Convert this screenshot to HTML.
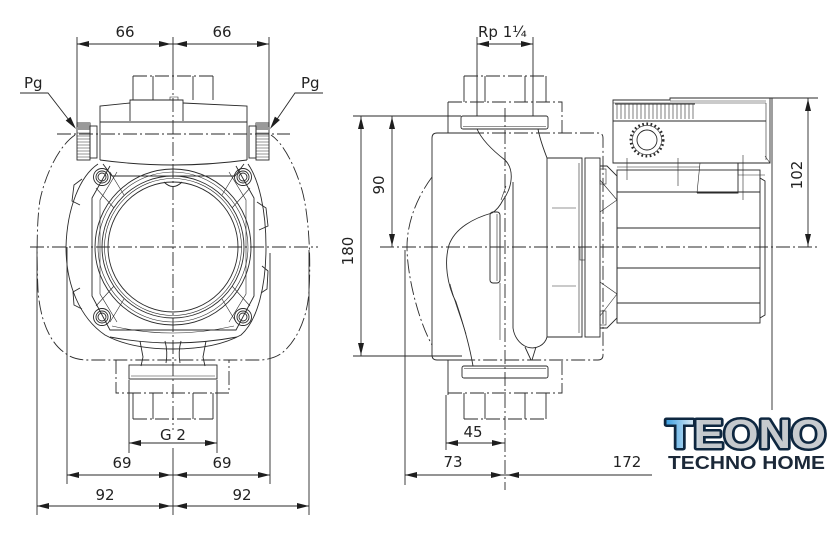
<!DOCTYPE html>
<html><head><meta charset="utf-8"><style>
html,body{margin:0;padding:0;background:#fff;}
svg{display:block}
.l{stroke:#2a2a2a;stroke-width:0.9;fill:none}
.t{stroke:#2a2a2a;stroke-width:0.6;fill:none}
.dd{stroke-dasharray:14 3 2 3}
.a{fill:#1e1e1e;stroke:none}
.tx{font-family:"DejaVu Sans","Liberation Sans",sans-serif;font-size:15px;fill:#222}
</style></head><body>
<svg width="840" height="535" viewBox="0 0 840 535" xmlns="http://www.w3.org/2000/svg">
<defs>
<linearGradient id="lg" x1="0" y1="0" x2="1" y2="0">
<stop offset="0" stop-color="#3b9fe2"/><stop offset="0.16" stop-color="#cfe6f5"/><stop offset="0.22" stop-color="#c4c8cc"/><stop offset="1" stop-color="#c8ccd0"/>
</linearGradient>
</defs>
<rect width="840" height="535" fill="#fff"/>

<!-- ================= LEFT VIEW ================= -->
<!-- center lines -->
<path class="l" d="M173,37 V76"/>
<path class="l dd" d="M173,76 V430"/>
<path class="l" d="M173,448 V515"/>
<path class="l dd" d="M30,247 H318"/>
<path class="l dd" d="M57,134 H290"/>

<!-- outer housing contour -->
<path class="l dd" d="M75,135 C60,145 46,172 40,200 C36,225 37,270 38,290 C40,320 50,343 65,353 Q72,359 85,360 L261,360 Q274,359 282,353 C298,340 308,315 309,290 C311,260 309,215 302,190 C294,163 282,142 271,135"/>

<!-- top nut -->
<path class="l dd" d="M133,76 H213"/>
<path class="l" d="M133,76 V100 M213,76 V100 M153,76 V100 M193,76 V100"/>
<!-- raised -->
<path class="l" d="M130,121 V100 H183 V121"/>
<path class="t" d="M170,100 V97 H178 V100"/>
<!-- block -->
<path class="l" d="M100,160 V106 L130,103 M183,103 L247,106 V160"/>
<path class="l" d="M100,122 H247"/>
<path class="l" d="M100,160 Q173,170 247,160"/>
<path class="l" d="M103,164 L112,176 H235 L244,164"/>

<!-- Pg nuts -->
<rect class="l" x="77" y="123" width="13" height="37"/>
<rect x="77" y="123" width="13" height="7" fill="#9a9a9a"/>
<path class="t" d="M77,133H90M77,136H90M77,139H90M77,142H90M77,145H90M77,148H90M77,151H90M77,154H90M77,157H90"/>
<rect class="l" x="90" y="126" width="7" height="32"/>
<rect class="l" x="256" y="123" width="13" height="37"/>
<rect x="256" y="123" width="13" height="7" fill="#9a9a9a"/>
<path class="t" d="M256,133H269M256,136H269M256,139H269M256,142H269M256,145H269M256,148H269M256,151H269M256,154H269M256,157H269"/>
<rect class="l" x="249" y="126" width="7" height="32"/>

<!-- Pg leaders -->
<text class="tx" x="24" y="88">Pg</text>
<path class="l" d="M20,93 H48 L72,124"/>
<polygon class="a" points="76,129 70.5,116.9 65.7,120.5"/>
<text class="tx" x="301" y="88">Pg</text>
<path class="l" d="M323,93 H295 L273,125"/>
<polygon class="a" points="270,129 279.9,120 274.9,116.6"/>

<!-- flange outer arc -->
<path class="l" d="M98,164 C80,176 67,208 66,247 C66,285 80,318 105,335 C125,346 150,349 173,349 C196,349 221,346 241,335 C258,320 266,285 266,247 C266,210 259,180 248,164"/>
<!-- side bumps -->
<path class="l" d="M82,179 L74,185 L72,201 L80,205"/>
<path class="l" d="M80,288 L73,292 L74,305 L82,309"/>
<path class="l" d="M257,202 L266,208 L268,226 L259,230"/>
<path class="l" d="M262,266 L268,271 L267,289 L261,293"/>
<!-- octagon body -->
<path class="l" d="M110,166 L92,198 L92,296 L110,330 L236,330 L254,296 L254,198 L236,166"/>
<path class="t" d="M117,172 L100,200 L100,294 L117,322 M229,172 L246,200 L246,294 L229,322"/>
<!-- gussets -->
<path class="t" d="M96,188 L114,208 M110,172 L124,195 M250,188 L232,208 M236,172 L222,195 M96,306 L114,286 M110,322 L124,299 M250,306 L232,286 M236,322 L222,299"/>
<path class="l" d="M110,337 Q173,349 237,337"/>
<path class="t" d="M112,326 Q173,340 234,326"/>
<!-- bolts -->
<g class="l">
<circle cx="102" cy="177" r="8.5"/><circle cx="102" cy="177" r="6"/><circle cx="102" cy="177" r="4"/>
<circle cx="243" cy="177" r="8.5"/><circle cx="243" cy="177" r="6"/><circle cx="243" cy="177" r="4"/>
<circle cx="102" cy="317" r="8.5"/><circle cx="102" cy="317" r="6"/><circle cx="102" cy="317" r="4"/>
<circle cx="243" cy="317" r="8.5"/><circle cx="243" cy="317" r="6"/><circle cx="243" cy="317" r="4"/>
</g>
<!-- rings -->
<circle class="l" cx="173" cy="247" r="78"/>
<circle class="t" cx="173" cy="247" r="75"/>
<circle class="l" cx="173" cy="247" r="71"/>
<circle class="t" cx="173" cy="247" r="68.5"/>
<circle class="l" cx="173" cy="247" r="65"/>
<path class="l" d="M164,182 Q173,191 182,182"/>
<!-- neck -->
<path class="l" d="M140,341 L143,357 L141,366 M206,341 L203,357 L205,366"/>
<path class="l" d="M165,341 Q168,352 166,363 M181,341 Q178,352 180,363"/>
<!-- bottom fitting -->
<rect class="l" x="129" y="365" width="88" height="14"/>
<path class="t" d="M131,376 H215"/>
<path class="l dd" d="M116,360 V393 H229 V360"/>
<path class="l" d="M133,393 V419 M213,393 V419 M153,393 V419 M193,393 V419"/>
<path class="l dd" d="M133,419 H213"/>

<!-- dims left -->
<path class="l" d="M77,37 V127 M269,37 V127"/>
<path class="l" d="M77,44 H269"/>
<polygon class="a" points="77,44 89,41 89,47"/><polygon class="a" points="171,44 159,41 159,47"/>
<polygon class="a" points="175,44 187,41 187,47"/><polygon class="a" points="269,44 257,41 257,47"/>
<text class="tx" x="125" y="37" text-anchor="middle">66</text>
<text class="tx" x="222" y="37" text-anchor="middle">66</text>

<path class="l" d="M129,380 V453 M217,380 V453 M129,443 H217"/>
<polygon class="a" points="129,443 141,440 141,446"/><polygon class="a" points="217,443 205,440 205,446"/>
<text class="tx" x="173" y="440" text-anchor="middle">G 2</text>

<path class="l" d="M67,247 V484 M270,253 V484 M37,247 V515 M309,250 V515"/>
<path class="l" d="M67,475 H270"/>
<polygon class="a" points="67,475 79,472 79,478"/><polygon class="a" points="171,475 159,472 159,478"/>
<polygon class="a" points="175,475 187,472 187,478"/><polygon class="a" points="270,475 258,472 258,478"/>
<text class="tx" x="122" y="468" text-anchor="middle">69</text>
<text class="tx" x="222" y="468" text-anchor="middle">69</text>
<path class="l" d="M37,506 H309"/>
<polygon class="a" points="37,506 49,503 49,509"/><polygon class="a" points="171,506 159,503 159,509"/>
<polygon class="a" points="175,506 187,503 187,509"/><polygon class="a" points="309,506 297,503 297,509"/>
<text class="tx" x="105" y="500" text-anchor="middle">92</text>
<text class="tx" x="242" y="500" text-anchor="middle">92</text>

<!-- ================= RIGHT VIEW ================= -->
<path class="l dd" d="M380,247 H817"/>
<path class="l dd" d="M505,108 V490"/>

<!-- top fitting -->
<path class="l dd" d="M464,76 H546"/>
<path class="l" d="M464,76 V102 M546,76 V102 M485,76 V102 M525,76 V102"/>
<path class="l" d="M448,133 V102"/>
<path class="l dd" d="M448,102 H562 V133"/>
<rect class="l" x="461" y="116" width="87" height="13" rx="2"/>
<path class="t" d="M463,126.5 H546"/>
<!-- bottom fitting -->
<rect class="l" x="462" y="366" width="86" height="12" rx="2"/>
<path class="t" d="M464,368.5 H546"/>
<path class="l" d="M448,360 V395"/>
<path class="l dd" d="M448,393 H562 V360"/>
<path class="l" d="M464,393 V419 M546,393 V419 M485,393 V419 M525,393 V419"/>
<path class="l dd" d="M464,419 H546"/>

<!-- body -->
<path class="l" d="M470,133 H437 Q432,133 432,138 V355 Q432,360 437,360 H470"/>
<path class="l dd" d="M470,133 H598 Q603,133 603,138 V355 Q603,360 598,360 H470"/>
<path class="l dd" d="M432,177 C415,200 407,225 407,247 C407,275 418,320 432,345"/>
<!-- volute -->
<path class="l" d="M477,129 C482,140 492,150 505,160 C515,170 512,188 503,200 C500,206 497,210 492,213 C474,218 455,228 449,245 C444,262 447,285 456,302 C462,320 469,342 473,366"/>
<path class="t" d="M450,284 C454,300 461,318 466,334"/>
<path class="l" d="M538,129 C540,140 544,150 547,158 V337 C545,345 536,350 527,347 C519,344 514,336 513,328 V182"/>
<path class="l" d="M525,347 L531,360 M536,347 L532,360"/>
<rect class="l" x="490" y="212" width="10" height="71" rx="3"/>
<path class="t" d="M497,214 V281 M500,283 V340 M501,200 L506,186"/>
<!-- can -->
<path class="l" d="M547,158 H582 V337 H547"/>
<path class="t" d="M579,163 V333 M552,208 H576 M552,286 H576"/>
<rect class="t" x="580" y="247" width="5" height="13"/>
<rect class="l" x="585" y="158" width="15" height="179"/>
<path class="l" d="M600,166 H607 L617,176 V318 L607,328 H600"/>
<path class="t" d="M600,180 L617,200 L600,212 M600,282 L617,294 L600,316"/>
<rect class="t" x="600" y="169" width="6" height="15"/>
<rect class="t" x="600" y="311" width="6" height="14"/>
<!-- motor -->
<rect class="l" x="617" y="170" width="143" height="153"/>
<path class="l" d="M617,192 H760 M617,228 H760 M617,268 H760 M617,303 H760"/>
<path class="l" d="M760,178 L765,181 V315 L760,318"/>
<!-- electronics box -->
<path class="l" d="M613,163 V100 H670 V98 H770 V163 Z"/>
<path class="t" d="M613,103 H766 M766,103 V160 M670,101 H766"/>
<path class="t" d="M617,104V119M621,104V119M625,104V119M629,104V119M633,104V119M637,104V119M641,104V119M645,104V119M649,104V119M653,104V119M657,104V119M661,104V119M665,104V119M669,104V119M673,104V119M677,104V119M681,104V119M685,104V119M689,104V119M693,104V119"/>
<path class="l" d="M615,104 H695 M613,121 H766"/>
<circle cx="647" cy="140" r="16.2" fill="none" stroke="#2a2a2a" stroke-width="2.6" stroke-dasharray="1.7 2.5"/>
<circle class="t" cx="647" cy="140" r="14.6"/>
<circle class="l" cx="647" cy="140" r="10"/>
<path class="t" d="M617,167 H700 M700,163 L697,193 M738,163 V175 H765 M627,158 V180 M678,158 V186 M743,155 V200 M765,156 L770,163"/>
<path class="l" d="M697,193 H738 V163"/>

<!-- dims right -->
<text class="tx" x="478" y="37">Rp 1¼</text>
<path class="l" d="M477,37 V116 M533,37 V116 M477,44 H533"/>
<polygon class="a" points="477,44 489,41 489,47"/><polygon class="a" points="533,44 521,41 521,47"/>

<path class="l" d="M353,116 H461 M353,356 H462"/>
<path class="l" d="M361,116 V356 M392,116 V247"/>
<polygon class="a" points="361,117 358,129 364,129"/><polygon class="a" points="361,355 358,343 364,343"/>
<polygon class="a" points="392,117 389,129 395,129"/><polygon class="a" points="392,246 389,234 395,234"/>
<text class="tx" text-anchor="middle" transform="translate(353,251) rotate(-90)">180</text>
<text class="tx" text-anchor="middle" transform="translate(384,185) rotate(-90)">90</text>

<path class="l" d="M770,98 H818 M808,98 V247 M772,98 V410"/>
<polygon class="a" points="808,99 805,111 811,111"/><polygon class="a" points="808,246 805,234 811,234"/>
<text class="tx" text-anchor="middle" transform="translate(802,175) rotate(-90)">102</text>

<path class="l" d="M405,250 V485 M446,395 V450"/>
<path class="l" d="M446,443 H505"/>
<polygon class="a" points="446,443 458,440 458,446"/><polygon class="a" points="504,443 492,440 492,446"/>
<text class="tx" x="473" y="437" text-anchor="middle">45</text>
<path class="l" d="M405,475 H652"/>
<polygon class="a" points="405,475 417,472 417,478"/><polygon class="a" points="503,475 491,472 491,478"/>
<polygon class="a" points="507,475 519,472 519,478"/>
<text class="tx" x="453" y="467" text-anchor="middle">73</text>
<text class="tx" x="627" y="467" text-anchor="middle">172</text>

<!-- logo -->
<rect x="661" y="418" width="170" height="32" rx="3" fill="#fff"/>
<text x="666" y="448" textLength="160" lengthAdjust="spacingAndGlyphs" font-family="Liberation Sans, sans-serif" font-weight="bold" font-size="41" fill="url(#lg)" stroke="#0e2740" stroke-width="5" stroke-linejoin="round" paint-order="stroke">TEONO</text>
<text x="668" y="469" textLength="157" lengthAdjust="spacingAndGlyphs" font-family="Liberation Sans, sans-serif" font-weight="bold" font-size="18.5" fill="#1b2838">TECHNO HOME</text>
</svg>
</body></html>
